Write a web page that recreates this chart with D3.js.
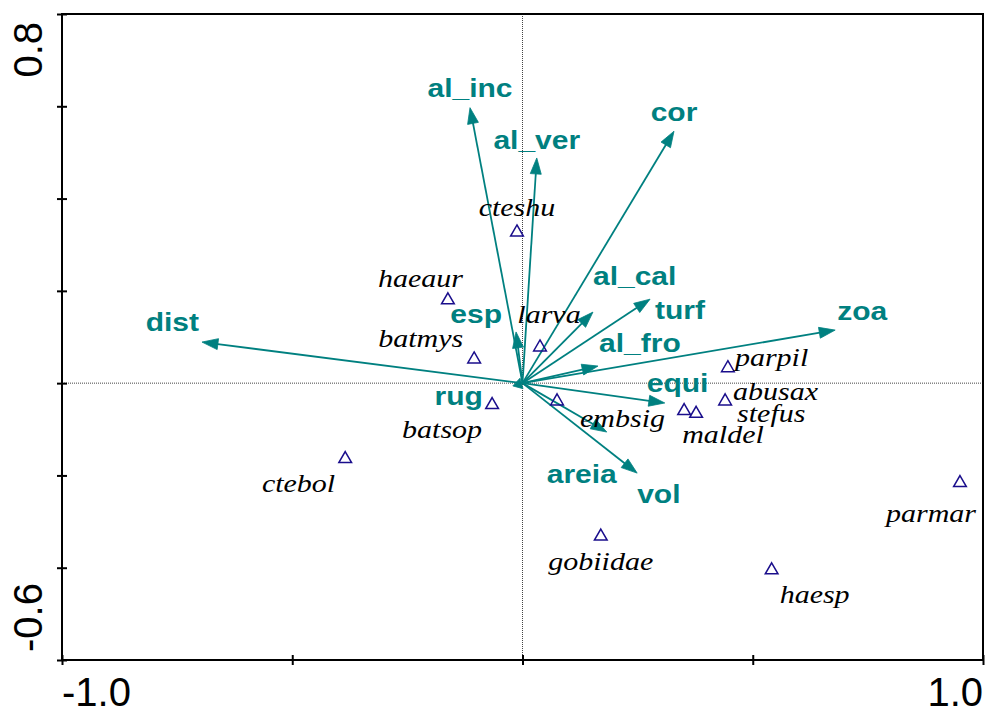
<!DOCTYPE html>
<html>
<head>
<meta charset="utf-8">
<script src="https://cdn.jsdelivr.net/npm/d3@7"></script>
<style>
  html, body { margin: 0; padding: 0; background: #fff; }
  svg { display: block; }
</style>
</head>
<body>
<svg id="chart" width="985" height="709"></svg>
<script>
// ---- Data ----
// Environmental variables (arrows): name, axis1, axis2
const envNames = ["al_inc", "al_ver", "cor", "al_cal", "turf", "al_fro", "zoa", "equi", "esp", "rug", "dist", "areia", "vol"];
const envX     = [-0.114, 0.031, 0.329, 0.153, 0.277, 0.164, 0.679, 0.309, -0.014, -0.021, -0.696, 0.183, 0.249];
const envY     = [0.597, 0.488, 0.546, 0.154, 0.182, 0.037, 0.115, -0.043, 0.111, -0.006, 0.089, -0.106, -0.195];

// Species (triangles)
const spNames = ["cteshu", "haeaur", "batmys", "larva", "batsop", "embsig", "maldel", "stefus", "abusax", "parpil", "ctebol", "gobiidae", "haesp", "parmar"];
const spX     = [-0.012, -0.162, -0.105, 0.038, -0.066, 0.075, 0.351, 0.377, 0.440, 0.446, -0.385, 0.170, 0.541, 0.950];
const spY     = [0.329, 0.182, 0.054, 0.080, -0.045, -0.037, -0.058, -0.064, -0.037, 0.035, -0.162, -0.330, -0.403, -0.214];

// Axes
const xDomain = [-1.0, 1.0];
const yDomain = [-0.6, 0.8];
const xTickVals = [-1.0, -0.5, 0, 0.5, 1.0];
const yTickVals = [-0.6, -0.4, -0.2, 0, 0.2, 0.4, 0.6, 0.8];
const xTickLabels = ["-1.0", "1.0"];
const yTickLabels = ["-0.6", "0.8"];

// ---- Layout (label placement, px offsets from the mark) ----
const envLabelLayout = {
  al_inc: [0, -11, "middle"], al_ver: [0, -9, "middle"], cor: [0, -10, "middle"],
  al_cal: [0, -27, "start"], turf: [5, 20, "start"], al_fro: [1, -14, "start"],
  zoa: [2, -10, "start"], equi: [-18, -11, "start"], esp: [-14, -9, "end"],
  rug: [-30, 19, "end"], dist: [-3, -11, "end"], areia: [10, 51, "end"], vol: [0, 30, "start"]
};
const spLabelLayout = {
  cteshu: [0, -15, "middle"], haeaur: [15, -12, "end"], batmys: [-11, -11, "end"],
  larva: [9, -23, "middle"], batsop: [-10, 34, "end"], embsig: [23, 27, "start"],
  maldel: [-2, 33, "start"], stefus: [41, 9, "start"], abusax: [8, 0, "start"],
  parpil: [7, -1, "start"], ctebol: [-10, 34, "end"], gobiidae: [0, 35, "middle"],
  haesp: [8, 34, "start"], parmar: [16, 40, "end"]
};

const TEAL = "#008080";
const NAVY = "#1a0e8c";

const svg = d3.select("#chart");
const pLeft = 62, pRight = 983, pTop = 14, pBottom = 660;

const x = d3.scaleLinear().domain(xDomain).range([pLeft, pRight]);
const y = d3.scaleLinear().domain(yDomain).range([pBottom, pTop]);

// zero lines (dotted)
svg.append("line")
  .attr("x1", x(0)).attr("x2", x(0)).attr("y1", pTop).attr("y2", pBottom)
  .attr("stroke", "#444").attr("stroke-width", 1).attr("stroke-dasharray", "1,1");
svg.append("line")
  .attr("x1", pLeft).attr("x2", pRight).attr("y1", y(0)).attr("y2", y(0))
  .attr("stroke", "#444").attr("stroke-width", 1).attr("stroke-dasharray", "1,1");

// arrows
const env = envNames.map((n, i) => ({ name: n, x: envX[i], y: envY[i] }));
const ox = x(0), oy = y(0);
const headLen = 16, headHalf = 5.5;
const arrows = svg.append("g");
env.forEach(d => {
  const tx = x(d.x), ty = y(d.y);
  const dx = tx - ox, dy = ty - oy;
  const L = Math.hypot(dx, dy);
  const ux = dx / L, uy = dy / L;
  const hl = Math.min(headLen, L * 0.9);
  const bx = tx - ux * hl, by = ty - uy * hl;
  arrows.append("line")
    .attr("x1", ox).attr("y1", oy).attr("x2", bx + ux * 2).attr("y2", by + uy * 2)
    .attr("stroke", TEAL).attr("stroke-width", 1.8);
  const px = -uy, py = ux;
  arrows.append("path")
    .attr("d", `M${tx},${ty}L${bx + px * headHalf},${by + py * headHalf}L${bx - px * headHalf},${by - py * headHalf}Z`)
    .attr("fill", TEAL).attr("stroke", TEAL).attr("stroke-width", 0.8).attr("stroke-linejoin", "round");
});

// species triangles
const sp = spNames.map((n, i) => ({ name: n, x: spX[i], y: spY[i] }));
const tri = d3.symbol().type(d3.symbolTriangle).size(70);
svg.append("g").selectAll("path").data(sp).join("path")
  .attr("d", tri)
  .attr("transform", d => `translate(${x(d.x)},${y(d.y) + 1})`)
  .attr("fill", "none").attr("stroke", NAVY).attr("stroke-width", 1.5);

// species labels
svg.append("g").selectAll("text").data(sp).join("text")
  .attr("transform", d => {
    const o = spLabelLayout[d.name];
    return `translate(${x(d.x) + o[0]},${y(d.y) + o[1]}) scale(1.2,1)`;
  })
  .attr("text-anchor", d => spLabelLayout[d.name][2])
  .attr("font-family", "'Liberation Serif', 'Times New Roman', serif")
  .attr("font-style", "italic")
  .attr("font-size", 25)
  .attr("fill", "#000")
  .text(d => d.name);

// env labels
svg.append("g").selectAll("text").data(env).join("text")
  .attr("transform", d => {
    const o = envLabelLayout[d.name];
    return `translate(${x(d.x) + o[0]},${y(d.y) + o[1]}) scale(1.2,1)`;
  })
  .attr("text-anchor", d => envLabelLayout[d.name][2])
  .attr("font-family", "'Liberation Sans', Arial, sans-serif")
  .attr("font-weight", "bold")
  .attr("font-size", 25)
  .attr("fill", TEAL)
  .text(d => d.name);

// frame
svg.append("rect")
  .attr("x", pLeft).attr("y", pTop).attr("width", pRight - pLeft).attr("height", pBottom - pTop)
  .attr("fill", "none").attr("stroke", "#000").attr("stroke-width", 2);

// axes (ticks crossing the frame)
const xAxis = d3.axisBottom(x).tickValues(xTickVals).tickSize(5).tickFormat("");
const gx = svg.append("g").attr("transform", `translate(0,${pBottom})`).call(xAxis);
gx.select(".domain").remove();
gx.selectAll(".tick line").attr("y1", -5).attr("y2", 5).attr("stroke", "#000").attr("stroke-width", 2);

const yAxis = d3.axisLeft(y).tickValues(yTickVals).tickSize(5).tickFormat("");
const gy = svg.append("g").attr("transform", `translate(${pLeft},0)`).call(yAxis);
gy.select(".domain").remove();
gy.selectAll(".tick line").attr("x1", -5).attr("x2", 5).attr("stroke", "#000").attr("stroke-width", 2);

// tick labels (only ends)
const tickFont = "'Liberation Sans', Arial, sans-serif";
svg.append("text").attr("x", x(-1.0)).attr("y", 706)
  .attr("font-family", tickFont).attr("font-size", 40).attr("text-anchor", "start")
  .text(xTickLabels[0]);
svg.append("text").attr("x", x(1.0)).attr("y", 706)
  .attr("font-family", tickFont).attr("font-size", 40).attr("text-anchor", "end")
  .text(xTickLabels[1]);
svg.append("text").attr("transform", `translate(42,${y(-0.6) - 8}) rotate(-90)`)
  .attr("font-family", tickFont).attr("font-size", 40).attr("text-anchor", "start")
  .text(yTickLabels[0]);
svg.append("text").attr("transform", `translate(42,${y(0.8) + 8}) rotate(-90)`)
  .attr("font-family", tickFont).attr("font-size", 40).attr("text-anchor", "end")
  .text(yTickLabels[1]);
</script>
</body>
</html>
